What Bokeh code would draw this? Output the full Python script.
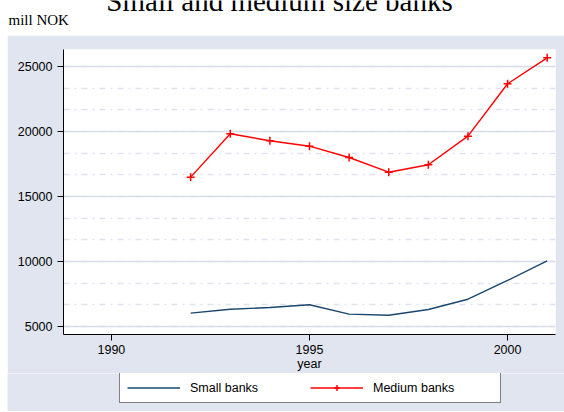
from bokeh.plotting import figure
from bokeh.models import Range1d, Label, SingleIntervalTicker, FixedTicker, Legend, LegendItem
from bokeh.embed import file_html
from bokeh.resources import INLINE

# ---- data ----
years = [1992, 1993, 1994, 1995, 1996, 1997, 1998, 1999, 2000, 2001]
small_banks = [6030, 6330, 6460, 6670, 5950, 5870, 6310, 7100, 8540, 10050]
medium_banks = [16490, 19830, 19290, 18870, 18000, 16870, 17440, 19640, 23670, 25670]
x_ticks = [1990, 1995, 2000]
title_text = "Small and medium size banks"
unit_text = "mill NOK"
x_label = "year"
series_names = ["Small banks", "Medium banks"]

BLUISH = "#e1e5ef"
GRID = "#d9dfea"
SANS = "Liberation Sans"
SERIF = "Liberation Serif"
FS = "12.5px"
NAVY = "#1a476f"
RED = "#ff0000"

# ---- top (title) strip ----
top = figure(width=564, height=35, x_range=Range1d(0, 564), y_range=Range1d(0, 35),
             x_axis_location=None, y_axis_location=None,
             toolbar_location=None, output_backend="svg", min_border=0)
top.grid.visible = False
top.outline_line_color = None
top.background_fill_color = "white"
top.border_fill_color = "white"
top.add_layout(Label(x=279, y=35, text=title_text, text_font=SERIF, text_font_size="29px",
                     text_align="center", text_baseline="alphabetic", text_color="black"))
top.add_layout(Label(x=8, y=16, text=unit_text, text_font=SERIF, text_font_size="15px",
                     text_align="left", text_baseline="alphabetic", text_color="black"))

# ---- main plot ----
p = figure(frame_width=492, frame_height=285,
           x_range=Range1d(1988.79, 2001.21), y_range=Range1d(4385, 26308),
           toolbar_location=None, output_backend="svg",
           min_border_left=56, min_border_right=9, min_border_top=14, min_border_bottom=36,
           styles={"margin-left": "7px"})
p.border_fill_color = BLUISH
p.background_fill_color = "white"
p.outline_line_color = None

p.line(years, small_banks, line_color=NAVY, line_width=1.4)
p.line(years, medium_banks, line_color=RED, line_width=1.4)
p.scatter(years, medium_banks, marker="cross", size=8, line_color=RED, line_width=1.5)

# axes
p.xaxis.ticker = FixedTicker(ticks=x_ticks)
p.yaxis.ticker = SingleIntervalTicker(interval=5000, num_minor_ticks=3)
for ax in (p.xaxis[0], p.yaxis[0]):
    ax.axis_line_color = "black"
    ax.major_tick_line_color = "black"
    ax.minor_tick_line_color = None
    ax.major_tick_in = 0
    ax.major_tick_out = 6
    ax.major_label_text_font = SANS
    ax.major_label_text_font_size = FS
    ax.major_label_text_color = "black"
p.yaxis.major_label_standoff = 5
p.xaxis.major_label_standoff = 4
p.xaxis.axis_label = x_label
p.xaxis.axis_label_text_font = SANS
p.xaxis.axis_label_text_font_size = FS
p.xaxis.axis_label_text_font_style = "normal"
p.xaxis.axis_label_standoff = 0
p.xaxis.axis_label_text_color = "black"

# grid
p.xgrid.visible = False
p.ygrid.grid_line_color = GRID
p.ygrid.grid_line_width = 1.5
p.ygrid.minor_grid_line_color = "#dfe3ef"
p.ygrid.minor_grid_line_width = 1.5
p.ygrid.minor_grid_line_dash = "6 5 2 5"

# ---- legend strip (bluish band below the plot) ----
leg = figure(width=557, height=38, x_range=Range1d(1988.79, 2001.21), y_range=Range1d(4385, 26308),
             x_axis_location=None, y_axis_location=None,
             toolbar_location=None, output_backend="svg", min_border=0,
             styles={"margin-left": "7px"})
leg.grid.visible = False
leg.outline_line_color = None
leg.background_fill_color = BLUISH
leg.border_fill_color = BLUISH
l_small = leg.line(years, small_banks, line_color=NAVY, line_width=1.4, visible=False)
l_med = leg.line(years, medium_banks, line_color=RED, line_width=1.4, visible=False)
l_med_pts = leg.scatter(years, medium_banks, marker="cross", size=8, line_color=RED,
                        line_width=1.5, visible=False)

legend = Legend(items=[LegendItem(label=series_names[0], renderers=[l_small]),
                       LegendItem(label=series_names[1], renderers=[l_med, l_med_pts])],
                orientation="horizontal", location=(112, 8),
                padding=7, spacing=0, glyph_width=53, glyph_height=15,
                label_height=15, label_width=120, label_standoff=10,
                label_text_font=SANS, label_text_font_size=FS, label_text_color="black",
                border_line_color="black", border_line_width=1,
                background_fill_color="white", background_fill_alpha=1.0, margin=0,
                inactive_fill_alpha=0.0)
leg.add_layout(legend, "center")

open("out.html", "w").write(file_html([top, p, leg], INLINE))
